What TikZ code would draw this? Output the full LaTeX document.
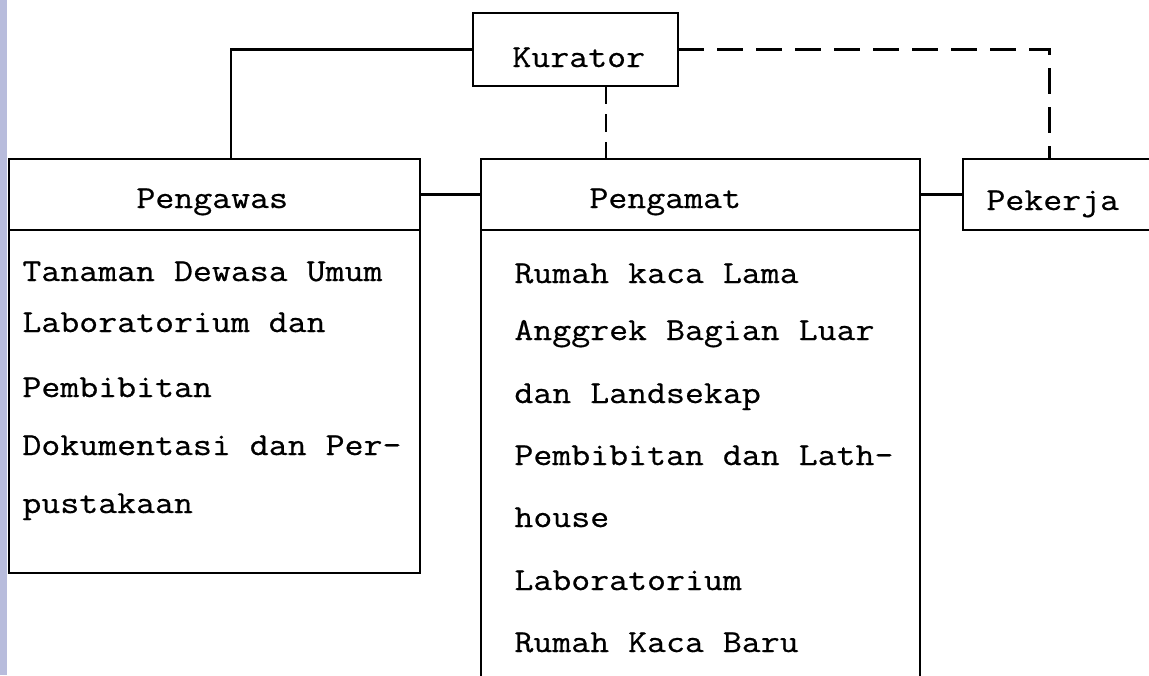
\documentclass[tikz,border=0pt]{standalone}
\usepackage{fontspec}
\newfontfamily\ketik{Latin Modern Mono}[FakeStretch=1.15,FakeBold=0.6]
\definecolor{pinggir}{RGB}{184,188,220}
\begin{document}
\begin{tikzpicture}[x=0.5pt,y=-0.5pt,
    kotak/.style={draw,line width=1.2pt,inner sep=0pt,outer sep=0pt,anchor=north west},
    teks/.style={anchor=base west,inner sep=0pt,font=\ketik\fontsize{16}{18}\selectfont},
    putus/.style={line width=1.2pt,dash pattern=on 13pt off 6.5pt},
    putuspendek/.style={line width=1.2pt,dash pattern=on 9pt off 5pt}]
\useasboundingbox (0,0) rectangle (1149,675);
\clip (0,0) rectangle (1149,675);
\fill[pinggir] (0,0) rectangle (7,675);
\node[kotak,minimum width=102.5pt,minimum height=36.5pt] (kurator) at (473,13) {};
\node[teks] (kuratorteks) at (512,67) {Kurator};
\node[kotak,minimum width=205.5pt,minimum height=35.5pt] (pengawas) at (9,159) {};
\node[kotak,minimum width=205.5pt,minimum height=171.5pt] (pengawasisi) at (pengawas.south west) {};
\node[kotak,minimum width=219.5pt,minimum height=35.5pt] (pengamat) at (481,159) {};
\node[kotak,minimum width=219.5pt,minimum height=235pt] (pengamatisi) at (pengamat.south west) {};
\node[kotak,minimum width=100pt,minimum height=35.5pt] (pekerja) at (963,159) {};
\node[teks] (pengawasteks) at (136,208) {Pengawas};
\node[teks] (pengamatteks) at (589,208) {Pengamat};
\node[teks] (pekerjateks) at (986,210) {Pekerja};
\foreach \y/\t [count=\i] in {281/Tanaman Dewasa Umum,332/Laboratorium dan,397/Pembibitan,
    455/Dokumentasi dan Per-,513/pustakaan}
    \node[teks] (awas\i) at (22,\y) {\t};
\foreach \y/\t [count=\i] in {283/Rumah kaca Lama,340/Anggrek Bagian Luar,403/dan Landsekap,
    465/Pembibitan dan Lath-,527/house,590/Laboratorium,652/Rumah Kaca Baru}
    \node[teks] (amat\i) at (514,\y) {\t};
\draw[line width=1.2pt] (kurator.west) -| ([xshift=8.25pt]pengawas.north);
\draw[putus] (kurator.east) -| ([xshift=-6.75pt]pekerja.north);
\draw[putuspendek] ([xshift=15.25pt]kurator.south) -- ([xshift=15.25pt]kurator.south |- pengamat.north);
\draw[line width=1.2pt] (pengawas.east) -- (pengamat.west);
\draw[line width=1.2pt] (pengamat.east) -- (pekerja.west);
\end{tikzpicture}
\end{document}
